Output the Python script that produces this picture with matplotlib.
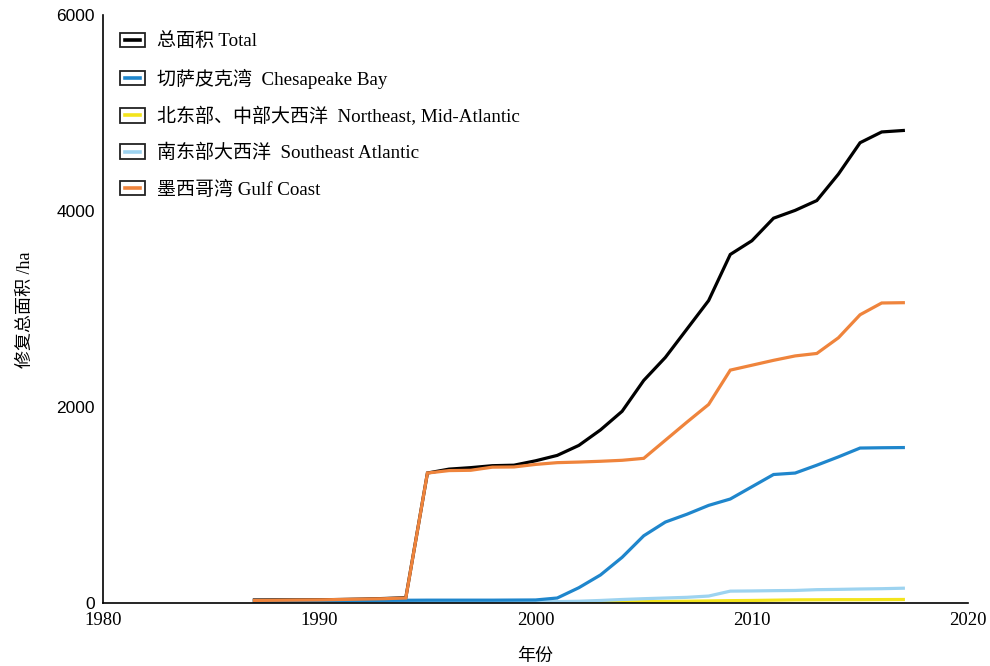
import matplotlib.pyplot as plt
from matplotlib.legend_handler import HandlerBase
from matplotlib.patches import Rectangle
from matplotlib.lines import Line2D

plt.rcParams['font.family'] = ['Liberation Serif', 'Noto Sans CJK SC']

years = list(range(1987, 2018))

# ha
total = [35, 36, 36, 37, 40, 44, 50, 58, 1330, 1370, 1385, 1405, 1410, 1455, 1510,
         1612, 1770, 1960, 2275, 2510, 2800, 3090, 3560, 3700, 3930, 4010, 4110,
         4380, 4700, 4810, 4825]
chesapeake = [25, 26, 27, 28, 29, 30, 31, 32, 33, 33, 33, 33, 34, 35, 55,
              160, 290, 470, 690, 830, 910, 1000, 1065, 1190, 1315, 1330, 1410,
              1495, 1585, 1588, 1590]
northeast = [2, 2, 2, 2, 2, 2, 2, 2, 3, 3, 4, 4, 5, 6, 8,
             10, 12, 15, 18, 20, 22, 25, 28, 30, 33, 36, 37,
             38, 38, 39, 40]
southeast = [5, 6, 7, 8, 9, 10, 10, 11, 12, 12, 13, 14, 15, 16, 18,
             22, 30, 40, 48, 55, 62, 75, 125, 127, 130, 132, 140,
             143, 147, 150, 155]
gulf = [30, 32, 34, 36, 40, 44, 48, 55, 1330, 1355, 1358, 1390, 1392, 1418, 1436,
        1442, 1450, 1460, 1480, 1665, 1850, 2030, 2380, 2430, 2480, 2525, 2550,
        2710, 2945, 3065, 3068]

labels = ['总面积 Total', '切萨皮克湾  Chesapeake Bay', '北东部、中部大西洋  Northeast, Mid-Atlantic',
          '南东部大西洋  Southeast Atlantic', '墨西哥湾 Gulf Coast']
colors = ['#000000', '#1f86cc', '#f3e41c', '#9dd3f0', '#ef843c']


class BoxLine(HandlerBase):
    def create_artists(self, legend, orig_handle, xdescent, ydescent, width, height, fontsize, trans):
        r = Rectangle((-xdescent, -ydescent), width, height, fc='white', ec='#222222', lw=1.3, transform=trans)
        y = -ydescent + height / 2
        ln = Line2D([-xdescent + width * 0.2, -xdescent + width * 0.8], [y, y],
                    color=orig_handle.get_color(), lw=2.6, transform=trans)
        return [r, ln]


fig, ax = plt.subplots(figsize=(9.9, 6.66), dpi=100)
fig.subplots_adjust(left=0.104, right=0.978, top=0.977, bottom=0.094)

lines = []
for series, c in zip([total, chesapeake, northeast, southeast, gulf], colors):
    ln, = ax.plot(years, series, color=c, lw=2.3, solid_joinstyle='miter')
    lines.append(ln)
# draw order: yellow and light blue under, orange over blue
lines[2].set_zorder(2.0)
lines[3].set_zorder(2.1)
lines[1].set_zorder(2.2)
lines[4].set_zorder(2.3)
lines[0].set_zorder(2.1)

ax.set_xlim(1980, 2020)
ax.set_ylim(0, 6000)
ax.set_xticks([1980, 1990, 2000, 2010, 2020])
ax.set_yticks([0, 2000, 4000, 6000])
ax.tick_params(length=0, labelsize=13.5, pad=6)
for t in ax.get_yticklabels():
    t.set_family('Liberation Sans')
    t.set_fontsize(12.5)
for s in ['top', 'right']:
    ax.spines[s].set_visible(False)
ax.spines['left'].set_linewidth(1.2)
ax.spines['bottom'].set_linewidth(1.2)

ax.set_xlabel('年份', fontsize=13, labelpad=14)
ax.set_ylabel('修复总面积 /ha', fontsize=13, labelpad=16)

ax.legend(lines, labels, handler_map={Line2D: BoxLine()}, loc='upper left',
          bbox_to_anchor=(0.0, 1.0), frameon=False, fontsize=13.7,
          handlelength=1.3, handleheight=0.8, labelspacing=0.95, handletextpad=0.65)

fig.savefig('out.png', dpi=100)
